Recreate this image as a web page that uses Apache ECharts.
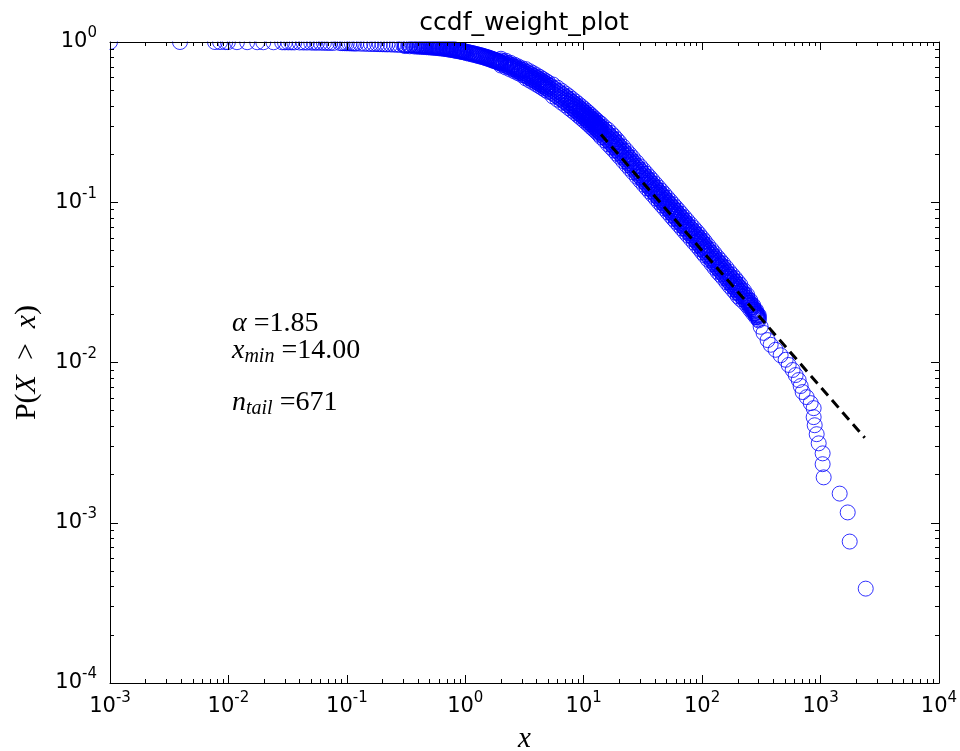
<!DOCTYPE html>
<html><head><meta charset="utf-8">
<script src="https://cdn.jsdelivr.net/npm/echarts@6/dist/echarts.min.js"></script>
<style>html,body{margin:0;padding:0;background:#fff}#c{width:960px;height:751px}</style>
</head><body><div id="c"></div>
<script>
// ---- data ----
const headX = [
 0.001, 0.0039, 0.0077, 0.0085, 0.0094, 0.0099, 0.0118, 0.0144, 0.0175, 0.0197,
 0.024, 0.0284, 0.030, 0.032, 0.034, 0.036, 0.040, 0.043, 0.046, 0.050,
 0.053, 0.056, 0.060, 0.064, 0.068, 0.072, 0.077, 0.088, 0.092, 0.096,
 0.10, 0.105, 0.11, 0.115, 0.12, 0.13, 0.14, 0.15, 0.16, 0.17,
 0.18, 0.19, 0.2, 0.21, 0.22, 0.235, 0.25, 0.265, 0.28, 0.3,
 0.315, 0.33, 0.345, 0.36, 0.38, 0.4, 0.42, 0.44, 0.46, 0.48,
 0.5, 0.52, 0.54, 0.56, 0.58, 0.6, 0.625, 0.65, 0.675, 0.7,
 0.725, 0.75, 0.775, 0.8, 0.825, 0.85, 0.875, 0.9, 0.925, 0.95,
 0.975, 1.0, 1.05, 1.1, 1.15, 1.2, 1.25, 1.3, 1.35, 1.4,
 1.45, 1.5, 1.55, 1.6, 1.65, 1.7, 1.75, 1.8, 1.85, 1.9, 1.95];
const headP = [
 1.0, 0.9996, 0.9992, 0.9988, 0.9984, 0.998, 0.9976, 0.9972, 0.9968, 0.9964,
 0.996, 0.9955, 0.995, 0.9946, 0.9942, 0.9938, 0.993, 0.9925, 0.992, 0.9912,
 0.9905, 0.99, 0.9892, 0.9885, 0.9878, 0.987, 0.9862, 0.984, 0.9832, 0.9825,
 0.9815, 0.9805, 0.9795, 0.9785, 0.9775, 0.976, 0.9745, 0.973, 0.972, 0.971,
 0.970, 0.969, 0.968, 0.967, 0.966, 0.9645, 0.963, 0.9615, 0.96, 0.958,
 0.9565, 0.955, 0.954, 0.953, 0.951, 0.949, 0.947, 0.945, 0.943, 0.941,
 0.939, 0.937, 0.935, 0.933, 0.9305, 0.928, 0.925, 0.922, 0.9185, 0.915,
 0.9115, 0.908, 0.904, 0.900, 0.8965, 0.893, 0.8895, 0.886, 0.8825, 0.879,
 0.8755, 0.872, 0.8655, 0.859, 0.8525, 0.846, 0.8395, 0.833, 0.827, 0.821,
 0.8145, 0.808, 0.802, 0.796, 0.7895, 0.783, 0.7775, 0.772, 0.766, 0.760, 0.7545];

const head2X = [
 0.31, 0.34, 0.37, 0.39, 0.41, 0.43, 0.45, 0.47, 0.49, 0.51,
 0.53, 0.55, 0.57, 0.59, 0.61, 0.64, 0.66, 0.69, 0.71, 0.74,
 0.76, 0.79, 0.81, 0.84, 0.86, 0.89, 0.91, 0.94, 0.96, 0.99,
 1.025, 1.075, 1.125, 1.175, 1.225, 1.275, 1.325, 1.375, 1.425, 1.475,
 1.525, 1.575, 1.625, 1.675, 1.725, 1.775, 1.825, 1.875, 1.925, 1.975];
const head2P = [
 0.957, 0.9545, 0.952, 0.950, 0.948, 0.946, 0.944, 0.942, 0.940, 0.938,
 0.936, 0.934, 0.932, 0.929, 0.9265, 0.923, 0.9205, 0.9165, 0.913, 0.9095,
 0.906, 0.902, 0.8985, 0.8945, 0.891, 0.8875, 0.884, 0.8805, 0.877, 0.8735,
 0.852, 0.845, 0.839, 0.832, 0.826, 0.819, 0.813, 0.808, 0.802, 0.795,
 0.789, 0.783, 0.777, 0.770, 0.764, 0.759, 0.754, 0.748, 0.742, 0.736];
const head3P = [
 0.9426, 0.9402, 0.9377, 0.9358, 0.9338, 0.9318, 0.9298, 0.9279, 0.9259, 0.9239,
 0.9220, 0.9200, 0.9180, 0.9151, 0.9126, 0.9092, 0.9067, 0.9028, 0.8993, 0.8959,
 0.8924, 0.8885, 0.8850, 0.8811, 0.8776, 0.8742, 0.8707, 0.8673, 0.8638, 0.8604,
 0.8648, 0.8577, 0.8516, 0.8445, 0.8384, 0.8313, 0.8252, 0.8201, 0.8140, 0.8069,
 0.8008, 0.7947, 0.7887, 0.7816, 0.7755, 0.7704, 0.7653, 0.7592, 0.7531, 0.7470];

const bandX = [
 2, 2.2, 2.4, 2.6, 2.8, 3, 3.25, 3.5, 3.75, 4,
 4.25, 4.5, 4.75, 5, 5.5, 6, 6.5, 7, 7.5, 8,
 8.5, 9, 9.5, 10, 10.5, 11, 11.5, 12, 12.5, 13,
 13.5, 14, 15, 16, 17, 18, 19, 20, 21.5, 23,
 24.5, 26, 28, 30, 32, 34, 36, 38, 40.5, 43,
 45.5, 48, 51, 54, 57, 60, 63.5, 67, 71, 75,
 80, 85, 90, 95, 100, 105, 112, 120, 127, 135,
 142, 150, 160, 170, 180, 190, 200, 210, 225, 240,
 255, 270, 285, 300];
const bandMid = [
 0.749, 0.728, 0.707, 0.688, 0.670, 0.653, 0.633, 0.614, 0.597, 0.580,
 0.565, 0.550, 0.536, 0.523, 0.498, 0.476, 0.456, 0.438, 0.421, 0.405,
 0.391, 0.377, 0.365, 0.353, 0.342, 0.332, 0.322, 0.313, 0.304, 0.296,
 0.288, 0.281, 0.2673, 0.2554, 0.2437, 0.2333, 0.2228, 0.2133, 0.2006, 0.1894,
 0.1795, 0.1706, 0.1602, 0.1511, 0.1430, 0.1358, 0.1294, 0.1236, 0.1171, 0.1113,
 0.1061, 0.1014, 0.0962, 0.0917, 0.0875, 0.0838, 0.0799, 0.0763, 0.0726, 0.0693,
 0.0656, 0.0623, 0.0594, 0.0567, 0.0540, 0.0516, 0.0486, 0.0457, 0.0433, 0.0409,
 0.0392, 0.0374, 0.0352, 0.0333, 0.0317, 0.0303, 0.0288, 0.0276, 0.0259, 0.0244,
 0.0228, 0.0214, 0.0202, 0.0190];
const bandUpper = [
 0.786, 0.764, 0.742, 0.722, 0.704, 0.686, 0.677, 0.657, 0.639, 0.621,
 0.605, 0.589, 0.574, 0.560, 0.543, 0.519, 0.497, 0.477, 0.459, 0.441,
 0.426, 0.411, 0.398, 0.385, 0.373, 0.362, 0.351, 0.341, 0.331, 0.323,
 0.314, 0.309, 0.294, 0.2835, 0.2705, 0.2590, 0.2473, 0.2368, 0.2227, 0.2102,
 0.1992, 0.1894, 0.1778, 0.1677, 0.1587, 0.1507, 0.1436, 0.1372, 0.1300, 0.1235,
 0.1178, 0.1126, 0.1068, 0.1018, 0.0971, 0.0930, 0.0887, 0.0847, 0.0806, 0.0769,
 0.0728, 0.0692, 0.0659, 0.0629, 0.0599, 0.0573, 0.0539, 0.0507, 0.0481, 0.0454,
 0.0435, 0.0415, 0.0391, 0.0370, 0.0352, 0.0336, 0.0320, 0.0306, 0.0282, 0.0264,
 0.0244, 0.0227, 0.0212, 0.0198];
const bandUpperInner = [
 0.7677, 0.7462, 0.7247, 0.7052, 0.6868, 0.6693, 0.6545, 0.6349, 0.6173, 0.5997,
 0.5842, 0.5687, 0.5542, 0.5408, 0.5199, 0.4969, 0.4761, 0.4573, 0.4395, 0.4228,
 0.4082, 0.3936, 0.3811, 0.3685, 0.3570, 0.3466, 0.3362, 0.3268, 0.3174, 0.3090,
 0.3007, 0.2934, 0.2817, 0.2692, 0.2569, 0.2459, 0.2348, 0.2248, 0.2114, 0.1996,
 0.1892, 0.1798, 0.1689, 0.1593, 0.1507, 0.1431, 0.1364, 0.1303, 0.1234, 0.1173,
 0.1118, 0.1069, 0.1014, 0.0967, 0.0922, 0.0883, 0.0842, 0.0804, 0.0765, 0.0730,
 0.0691, 0.0657, 0.0626, 0.0598, 0.0569, 0.0544, 0.0512, 0.0482, 0.0456, 0.0431,
 0.0413, 0.0394, 0.0371, 0.0351, 0.0334, 0.0319, 0.0304, 0.0291, 0.0270, 0.0254,
 0.0236, 0.0220, 0.0207, 0.0194];
const bandLowerInner = [
 0.7307, 0.7102, 0.6897, 0.6712, 0.6537, 0.6371, 0.6122, 0.5938, 0.5774, 0.5609,
 0.5464, 0.5319, 0.5184, 0.5058, 0.4770, 0.4560, 0.4368, 0.4196, 0.4033, 0.3879,
 0.3745, 0.3611, 0.3496, 0.3381, 0.3276, 0.3180, 0.3084, 0.2998, 0.2912, 0.2835,
 0.2759, 0.2692, 0.2536, 0.2423, 0.2312, 0.2214, 0.2114, 0.2024, 0.1903, 0.1797,
 0.1703, 0.1619, 0.1520, 0.1434, 0.1357, 0.1288, 0.1228, 0.1173, 0.1111, 0.1056,
 0.1007, 0.0962, 0.0913, 0.0870, 0.0830, 0.0795, 0.0758, 0.0724, 0.0689, 0.0658,
 0.0622, 0.0591, 0.0564, 0.0538, 0.0512, 0.0490, 0.0461, 0.0434, 0.0411, 0.0388,
 0.0372, 0.0355, 0.0334, 0.0316, 0.0301, 0.0287, 0.0273, 0.0262, 0.0248, 0.0235,
 0.0220, 0.0208, 0.0197, 0.0186];
const bandLower = [
 0.713, 0.693, 0.673, 0.655, 0.638, 0.622, 0.592, 0.574, 0.558, 0.542,
 0.528, 0.514, 0.501, 0.489, 0.457, 0.437, 0.418, 0.402, 0.386, 0.372,
 0.359, 0.346, 0.335, 0.324, 0.314, 0.305, 0.295, 0.287, 0.279, 0.272,
 0.264, 0.255, 0.243, 0.2301, 0.2195, 0.2102, 0.2007, 0.1922, 0.1807, 0.1706,
 0.1617, 0.1537, 0.1443, 0.1361, 0.1288, 0.1223, 0.1166, 0.1114, 0.1055, 0.1003,
 0.0956, 0.0914, 0.0867, 0.0826, 0.0788, 0.0755, 0.0720, 0.0687, 0.0654, 0.0624,
 0.0591, 0.0561, 0.0535, 0.0511, 0.0486, 0.0465, 0.0438, 0.0412, 0.0390, 0.0368,
 0.0353, 0.0337, 0.0317, 0.0300, 0.0286, 0.0273, 0.0259, 0.0249, 0.0238, 0.0226,
 0.0213, 0.0202, 0.0192, 0.0183];

const band2X = [
 2.1, 2.3, 2.5, 2.7, 2.9, 3.125, 3.375, 3.625, 3.875, 4.125,
 4.375, 4.625, 4.875, 5.25, 5.75, 6.25, 6.75, 7.25, 7.75, 8.25,
 8.75, 9.25, 9.75, 10.25, 10.75, 11.25, 11.75, 12.25, 12.75, 13.25,
 13.75, 14.5, 15.5, 16.5, 17.5, 18.5, 19.5, 20.75, 22.25, 23.75,
 25.25, 27, 29, 31, 33, 35, 37, 39.25, 41.75, 44.25,
 46.75, 49.5, 52.5, 55.5, 58.5, 61.75, 65.25, 69, 73, 77.5,
 82.5, 87.5, 92.5, 97.5, 102.5, 108.5, 116, 123.5, 131, 138.5,
 146, 155, 165, 175, 185, 195, 205, 217.5, 232.5, 247.5,
 262.5, 277.5, 292.5];
const band2Upper = [
 0.757, 0.7354, 0.7149, 0.696, 0.678, 0.6649, 0.6447, 0.6261, 0.6085, 0.592,
 0.5765, 0.5615, 0.5475, 0.533, 0.5084, 0.4865, 0.4667, 0.4484, 0.4312, 0.4155,
 0.4009, 0.3873, 0.3748, 0.3628, 0.3518, 0.3414, 0.3315, 0.3221, 0.3132, 0.3048,
 0.2970, 0.2890, 0.2755, 0.2631, 0.2514, 0.2404, 0.2299, 0.2182, 0.2055, 0.1945,
 0.1846, 0.1743, 0.1641, 0.1550, 0.1469, 0.1398, 0.1333, 0.1269, 0.1204, 0.1146,
 0.1094, 0.1041, 0.0991, 0.0944, 0.0903, 0.0863, 0.0823, 0.0785, 0.0748, 0.0711,
 0.0675, 0.0642, 0.0612, 0.0584, 0.0557, 0.0528, 0.0497, 0.0469, 0.0444, 0.0423,
 0.0404, 0.0383, 0.0362, 0.0343, 0.0327, 0.0312, 0.0297, 0.0280, 0.0262, 0.0244,
 0.0228, 0.0213, 0.0200];
const band2Mid = [
 0.7385, 0.7175, 0.6975, 0.679, 0.6615, 0.643, 0.6235, 0.6055, 0.5885, 0.5725,
 0.5575, 0.543, 0.5295, 0.5105, 0.487, 0.466, 0.447, 0.4295, 0.413, 0.398,
 0.384, 0.371, 0.359, 0.3475, 0.337, 0.327, 0.3175, 0.3085, 0.300, 0.292,
 0.2845, 0.2742, 0.2614, 0.2496, 0.2385, 0.2281, 0.2181, 0.2070, 0.1950, 0.1845,
 0.1751, 0.1654, 0.1557, 0.1471, 0.1394, 0.1326, 0.1265, 0.1204, 0.1142, 0.1087,
 0.1038, 0.0988, 0.0940, 0.0896, 0.0857, 0.0819, 0.0781, 0.0745, 0.0710, 0.0675,
 0.0640, 0.0609, 0.0581, 0.0554, 0.0528, 0.0501, 0.0472, 0.0445, 0.0421, 0.0401,
 0.0383, 0.0363, 0.0343, 0.0325, 0.0310, 0.0296, 0.0282, 0.0268, 0.0252, 0.0236,
 0.0221, 0.0208, 0.0196];
const band2Lower = [
 0.7205, 0.700, 0.6805, 0.6624, 0.6454, 0.6219, 0.6030, 0.5856, 0.5691, 0.5537,
 0.5392, 0.5251, 0.5121, 0.489, 0.4665, 0.4464, 0.4282, 0.4114, 0.3956, 0.3812,
 0.3678, 0.3554, 0.3439, 0.3329, 0.3228, 0.3132, 0.3041, 0.2955, 0.2874, 0.2797,
 0.2725, 0.2602, 0.2480, 0.2368, 0.2263, 0.2164, 0.2069, 0.1964, 0.1850, 0.1751,
 0.1661, 0.1569, 0.1477, 0.1396, 0.1323, 0.1258, 0.1200, 0.1142, 0.1084, 0.1031,
 0.0985, 0.0937, 0.0892, 0.0850, 0.0813, 0.0777, 0.0741, 0.0707, 0.0674, 0.0640,
 0.0607, 0.0578, 0.0551, 0.0526, 0.0501, 0.0475, 0.0448, 0.0422, 0.0399, 0.0380,
 0.0363, 0.0344, 0.0325, 0.0308, 0.0294, 0.0281, 0.0268, 0.0257, 0.0242, 0.0228,
 0.0215, 0.0203, 0.0192];

const tailX = [312, 330, 357, 379, 417, 460, 507, 538, 581, 616, 653, 679, 706, 763,
 825, 874, 874, 892, 927, 964, 1041, 1041, 1062, 1450, 1695, 1762, 2406];
const tailP = [0.0167, 0.0153, 0.0138, 0.0129, 0.0120, 0.0111, 0.0104, 0.00965, 0.00898,
 0.00835, 0.00777, 0.00713, 0.00654, 0.00608, 0.00558, 0.00519, 0.00456, 0.00406,
 0.00357, 0.00313, 0.00271, 0.00232, 0.00192, 0.00152, 0.00116, 0.000763, 0.000388];

const fitX = [14, 2360];
const fitP = [0.265, 0.00339];

const titleText = 'ccdf_weight_plot';
const alphaText = '1.85';
const xminText = '14.00';
const ntailText = '671';

// ---- chart ----
function pairs(xs, ys) { const n = Math.min(xs.length, ys.length); const r = []; for (let i = 0; i < n; i++) r.push([xs[i], ys[i]]); return r; }
const points = [].concat(
  pairs(headX, headP), pairs(head2X, head2P), pairs(head2X, head3P),
  pairs(bandX, bandLower), pairs(band2X, band2Lower), pairs(bandX, bandLowerInner),
  pairs(band2X, band2Mid), pairs(bandX, bandMid), pairs(bandX, bandUpperInner),
  pairs(band2X, band2Upper), pairs(bandX, bandUpper),
  pairs(tailX, tailP));

function expLabel(v) { const e = Math.round(Math.log10(v)); return '10{s|' + e + '}'; }
const supRich = { s: { fontSize: 15, fontFamily: 'DejaVu Sans', color: '#000', padding: [0, 0, 17, 0] } };
const common = {
  axisLine: { show: true, onZero: false, lineStyle: { color: '#000', width: 1 } },
  axisTick: { show: true, inside: true, length: 8, lineStyle: { color: '#000', width: 1 } },
  minorTick: { show: true, splitNumber: 9, length: 4, lineStyle: { color: '#000', width: 1 } },
  splitLine: { show: false }, minorSplitLine: { show: false }
};
const labelStyle = { fontSize: 21, fontFamily: 'DejaVu Sans', color: '#000', formatter: expLabel, rich: supRich,
  interval: 0, showMinLabel: true, showMaxLabel: true };

const chart = echarts.init(document.getElementById('c'), null, { renderer: 'canvas' });
chart.setOption({
  animation: false,
  backgroundColor: '#fff',
  grid: { left: 110, right: 21, top: 42, bottom: 68, containLabel: false, outerBoundsMode: 'none' },
  xAxis: [
    Object.assign({ type: 'log', logBase: 10, min: 1e-3, max: 1e4, position: 'bottom', z: 10,
      axisLabel: Object.assign({ margin: 8 }, labelStyle),
      name: 'x', nameLocation: 'middle', nameGap: 42,
      nameTextStyle: { fontFamily: 'Liberation Serif', fontStyle: 'italic', fontSize: 29, color: '#000' } }, common),
    Object.assign({ type: 'log', logBase: 10, min: 1e-3, max: 1e4, position: 'top', z: 10,
      axisLabel: { show: false } }, common)
  ],
  yAxis: [
    Object.assign({ type: 'log', logBase: 10, min: 1e-4, max: 1, position: 'left', z: 10,
      axisLabel: Object.assign({ margin: 13 }, labelStyle),
      name: 'P({i|X}\u2002>\u2002{i|x})', nameLocation: 'middle', nameGap: 68, nameRotate: 90,
      nameTextStyle: { fontFamily: 'Liberation Serif', fontSize: 30, color: '#000',
        rich: { i: { fontFamily: 'Liberation Serif', fontStyle: 'italic', fontSize: 30, color: '#000' } } } }, common),
    Object.assign({ type: 'log', logBase: 10, min: 1e-4, max: 1, position: 'right', z: 10,
      axisLabel: { show: false } }, common)
  ],
  series: [
    { type: 'scatter', data: points, symbol: 'circle', symbolSize: 15, z: 2, silent: true, large: false,
      itemStyle: { color: 'rgba(0,0,0,0)', borderColor: '#0000ff', borderWidth: 1 },
      emphasis: { disabled: true } },
    { type: 'line', data: pairs(fitX, fitP), symbol: 'none', z: 3, silent: true,
      lineStyle: { color: '#000', width: 3, type: [10, 6] } }
  ],
  graphic: [
    { type: 'rect', z: 5, silent: true, shape: { x: 0, y: 0, width: 960, height: 41.5 }, style: { fill: '#fff' } },
    { type: 'rect', z: 5, silent: true, shape: { x: 0, y: 0, width: 109.5, height: 751 }, style: { fill: '#fff' } },
    { type: 'text', z: 20, x: 524, y: 23, style: { text: titleText, fontSize: 25, fontFamily: 'DejaVu Sans',
      fill: '#000', textAlign: 'center', textVerticalAlign: 'middle' } },
    { type: 'text', z: 20, x: 232, y: 324, style: { text: '{i|α} =' + alphaText, fontSize: 28,
      fontFamily: 'Liberation Serif', fill: '#000', textVerticalAlign: 'middle',
      rich: { i: { fontStyle: 'italic', fontSize: 28, fontFamily: 'Liberation Serif' } } } },
    { type: 'text', z: 20, x: 232, y: 351, style: { text: '{i|x}{sub|min} =' + xminText, fontSize: 28,
      fontFamily: 'Liberation Serif', fill: '#000', textVerticalAlign: 'middle',
      rich: { i: { fontStyle: 'italic', fontSize: 28, fontFamily: 'Liberation Serif' },
              sub: { fontStyle: 'italic', fontSize: 20, fontFamily: 'Liberation Serif', padding: [12, 0, 0, 0] } } } },
    { type: 'text', z: 20, x: 232, y: 403, style: { text: '{i|n}{sub|tail} =' + ntailText, fontSize: 28,
      fontFamily: 'Liberation Serif', fill: '#000', textVerticalAlign: 'middle',
      rich: { i: { fontStyle: 'italic', fontSize: 28, fontFamily: 'Liberation Serif' },
              sub: { fontStyle: 'italic', fontSize: 20, fontFamily: 'Liberation Serif', padding: [12, 0, 0, 0] } } } }
  ]
});
</script></body></html>
